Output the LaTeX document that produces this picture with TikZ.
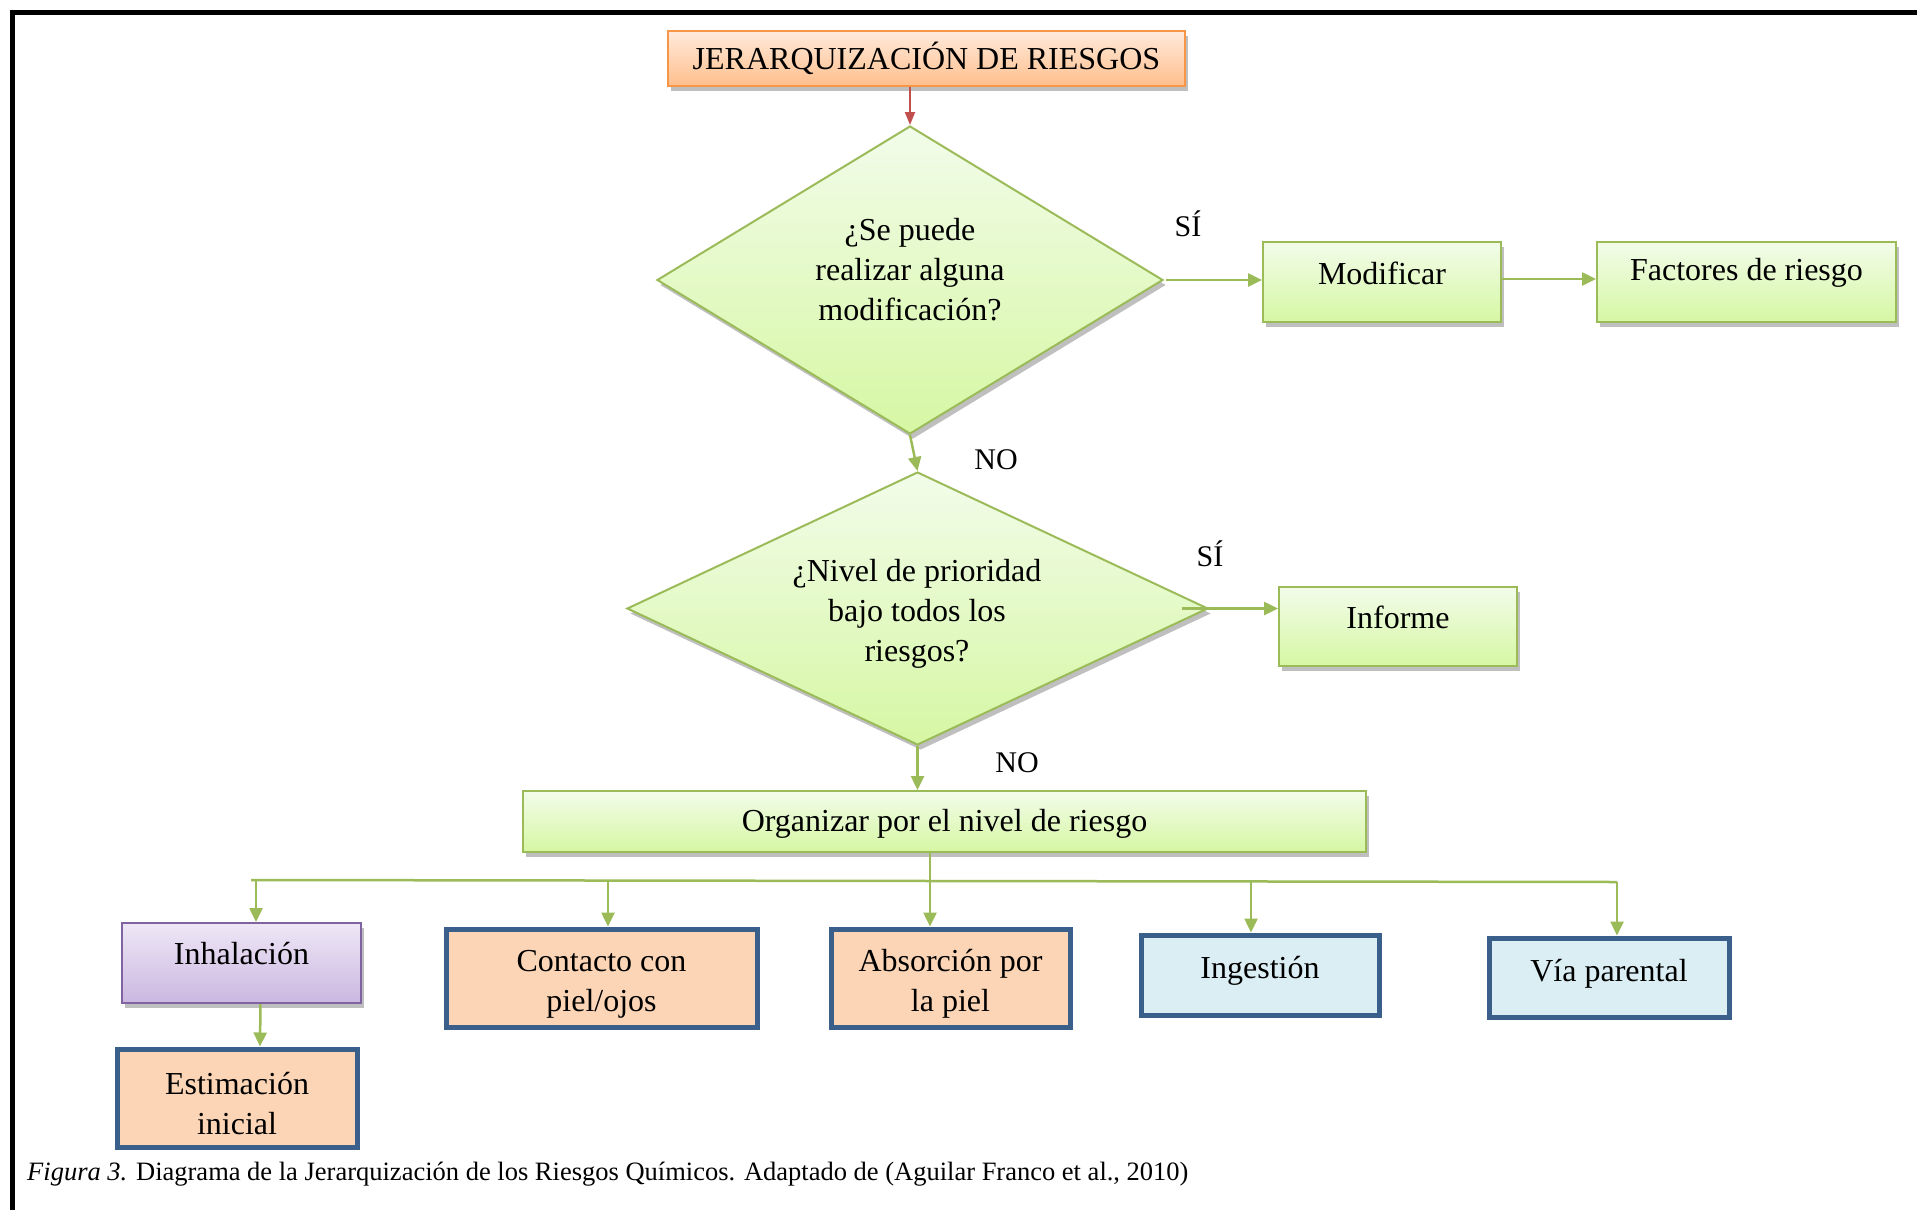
\documentclass[tikz,border=0pt]{standalone}
\usepackage{fontspec}
\setmainfont{Liberation Serif}
\usetikzlibrary{arrows.meta,shapes.geometric,shadows}
\definecolor{gborder}{HTML}{9BBB59}
\definecolor{gtop}{HTML}{F2FCEA}
\definecolor{gbot}{HTML}{D6F7A3}
\definecolor{otop}{HTML}{FFEADC}
\definecolor{obot}{HTML}{FFBF8C}
\definecolor{oborder}{HTML}{F79646}
\definecolor{ptop}{HTML}{EEE7F6}
\definecolor{pbot}{HTML}{CBB7E1}
\definecolor{pborder}{HTML}{8064A2}
\definecolor{peach}{HTML}{FBD5B5}
\definecolor{lblue}{HTML}{DBEEF4}
\definecolor{bborder}{HTML}{3A5F8B}
\definecolor{redarrow}{HTML}{C0504D}
\begin{document}
\begin{tikzpicture}[x=1pt,y=-1pt,
  txt/.style={font=\fontsize{32}{40}\selectfont, align=center},
  shad/.style={drop shadow={shadow xshift=3pt,shadow yshift=-5pt,opacity=0.25,fill=black}},
  gbox/.style={draw=gborder, line width=2pt, shading=axis, top color=gtop, bottom color=gbot, shad, inner sep=0pt, txt},
  gdia/.style={diamond, draw=gborder, line width=2pt, shading=axis, top color=gtop, bottom color=gbot, shad, inner sep=0pt, aspect=1.6},
  obox/.style={draw=oborder, line width=2pt, shading=axis, top color=otop, bottom color=obot, shad, inner sep=0pt, font=\fontsize{32}{38}\selectfont},
  pbox/.style={draw=pborder, line width=2pt, shading=axis, top color=ptop, bottom color=pbot, shad, inner sep=0pt, txt},
  bbox/.style={draw=bborder, line width=5pt, inner sep=0pt, txt},
  garrow/.style={draw=gborder, line width=2.5pt, -{Triangle[length=14pt,width=13pt]}},
  gline/.style={draw=gborder, line width=2.5pt},
  lab/.style={font=\fontsize{30}{36}\selectfont},
  up/.style 2 args={label={[txt, yshift=#2]center:#1}}
]
\useasboundingbox (0,0) rectangle (1917,1210);
% frame
\draw[line width=5pt] (12,1210) -- (12,12) -- (1917,12);

% nodes
\node[obox, minimum width=517pt, minimum height=55pt] (title) at (926.5,58.5) {JERARQUIZACIÓN DE RIESGOS};
\node[gdia, minimum width=506pt, minimum height=308pt] (d1) at (910,280) {};
\node[txt] (d1t) at (910,270) {¿Se puede\\realizar alguna\\modificación?};
\node[gbox, minimum width=238pt, minimum height=80pt, up={Modificar}{9pt}] (mod) at (1382,282) {};
\node[gbox, minimum width=299pt, minimum height=80pt, up={Factores de riesgo}{9pt}] (fac) at (1746.5,282) {};
\node[gdia, minimum width=581pt, minimum height=273pt] (d2) at (917.5,608.5) {};
\node[txt] (d2t) at (917,613.5) {¿Nivel de prioridad\\bajo todos los\\riesgos?};
\node[gbox, minimum width=238pt, minimum height=79pt, up={Informe}{9pt}] (inf) at (1398,626.5) {};
\node[gbox, minimum width=843pt, minimum height=61pt, up={Organizar por el nivel de riesgo}{-2pt}] (org) at (944.5,821.5) {};
\node[pbox, minimum width=239pt, minimum height=80pt, up={Inhalación}{9pt}] (inh) at (241.5,963) {};
\node[bbox, fill=peach, minimum width=311pt, minimum height=98pt, up={Contacto con\\piel/ojos}{-6pt}] (con) at (601.5,978) {};
\node[bbox, fill=peach, minimum width=239pt, minimum height=98pt, up={Absorción por\\la piel}{-6pt}] (abs) at (950.5,978) {};
\node[bbox, fill=lblue, minimum width=238pt, minimum height=80pt, up={Ingestión}{4pt}] (ing) at (1260,975) {};
\node[bbox, fill=lblue, minimum width=240pt, minimum height=79pt, up={Vía parental}{4pt}] (via) at (1609,977.5) {};
\node[bbox, fill=peach, minimum width=240pt, minimum height=98pt, up={Estimación\\inicial}{-6pt}] (est) at (237,1098) {};

% labels
\node[lab] (si1) at (1188,224) {SÍ};
\node[lab] (no1) at (996,460) {NO};
\node[lab] (si2) at (1210,554) {SÍ};
\node[lab] (no2) at (1017,763) {NO};

% connectors
\draw[draw=redarrow, line width=2pt, -{Triangle[length=13pt,width=10pt]}] (title.south -| d1.north) -- (d1.north);
\draw[garrow] ([xshift=2pt]d1.east) -- (d1.east -| mod.west);
\draw[garrow] ([yshift=3pt]mod.east) -- ([yshift=3pt]fac.west);
\draw[garrow] (d1.south) -- (d2.north);
\draw[garrow] ([xshift=-27pt]d2.east) -- (d2.east -| inf.west);
\draw[garrow] (d2.south) -- (org.north -| d2.south);
\draw[garrow] ([xshift=-14.5pt]org.south) -- ([xshift=-20.5pt]abs.north);

\coordinate (busL) at (251,880);
\coordinate (busR) at (1617,882);
\draw[gline] (busL) -- (busR);
\coordinate (b1) at (256,880);
\coordinate (b2) at (608,880.5);
\coordinate (b3) at (1251,881.5);
\coordinate (b4) at (1617,882);
\draw[garrow] (b1) -- (b1 |- inh.north);
\draw[garrow] (b2) -- (b2 |- con.north);
\draw[garrow] (b3) -- (b3 |- ing.north);
\draw[garrow] (b4) -- (b4 |- via.north);
\draw[garrow] ([xshift=19pt]inh.south) -- ([xshift=23pt]est.north);

% caption
\node[anchor=base west, font=\fontsize{26.5}{32}\selectfont, inner sep=0pt] (cap) at (27,1180) {\textit{Figura 3.} Diagrama de la Jerarquización de los Riesgos Químicos. Adaptado de (Aguilar Franco et al., 2010)};
\end{tikzpicture}
\end{document}
